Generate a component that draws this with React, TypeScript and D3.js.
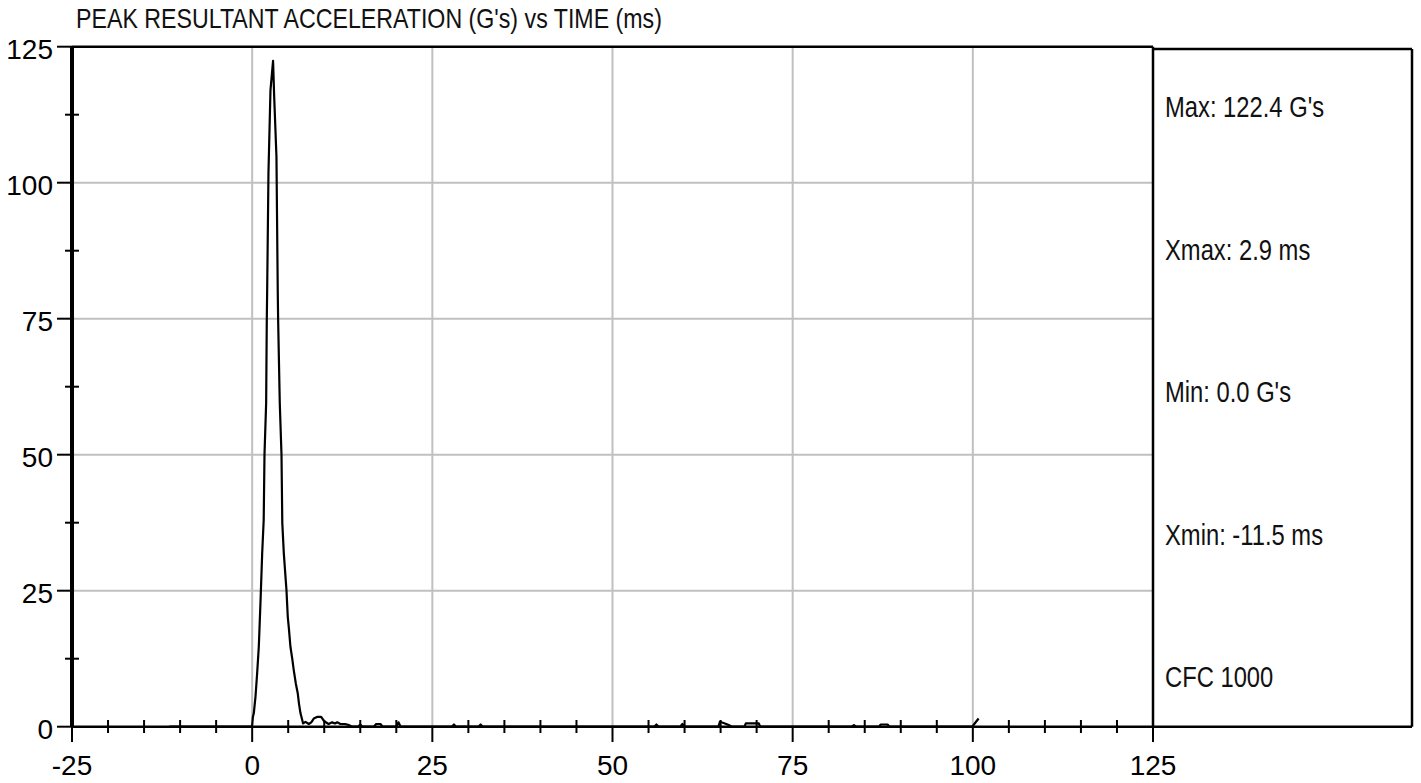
import React from "react";
import * as d3 from "d3";

// ---- data ----
const timeMs: number[] = [
  -11.5, -0.1, 0.0, 0.1, 0.23, 0.46, 0.69, 0.92, 1.15, 1.39, 1.6, 1.71, 1.94, 2.03, 2.08, 2.26, 2.54, 2.9,
  3.05, 3.37, 3.55, 3.6, 3.83, 4.07, 4.18, 4.39, 4.6, 4.76, 4.94, 5.1, 5.31, 5.55, 5.77, 6.05, 6.33, 6.5, 6.7,
  7.07, 7.4, 7.86, 8.2, 8.55, 9.0, 9.57, 10.0, 10.6, 11.1, 11.5, 11.8, 12.25, 12.9, 13.4, 13.9,
  14.7, 15.0, 15.3, 16.9, 17.2, 17.8, 18.1, 20.0, 20.3, 20.6, 27.7, 28.0, 28.3, 31.4, 31.7, 32.0,
  55.8, 56.1, 56.4, 59.4, 59.7, 60.0, 64.7, 64.9, 65.6, 66.3, 66.6, 68.3, 68.5, 69.4, 70.3, 70.5,
  83.2, 83.5, 83.8, 87.0, 87.2, 88.2, 88.4, 99.9, 100.8,
];
const accelG: number[] = [
  0.0, 0.0, 0.3, 1.8, 2.5, 5.5, 9.8, 14.7, 22.7, 31.9, 38.0, 50.0, 59.5, 75.0, 80.0, 101.7, 117.0, 122.4,
  116.0, 104.8, 80.0, 75.0, 59.5, 50.0, 37.5, 31.9, 28.0, 25.1, 20.2, 18.0, 14.7, 12.6, 10.4, 8.0, 6.1, 4.2, 2.5,
  0.6, 0.9, 0.5, 0.8, 1.5, 1.8, 1.8, 1.0, 0.5, 0.8, 0.6, 0.8, 0.5, 0.5, 0.3, 0.0,
  0.0, 0.4, 0.0, 0.0, 0.5, 0.5, 0.0, 0.0, 0.8, 0.0, 0.0, 0.4, 0.0, 0.0, 0.4, 0.0,
  0.0, 0.4, 0.0, 0.0, 0.5, 0.0, 0.0, 0.9, 0.6, 0.2, 0.0, 0.0, 0.6, 0.6, 0.6, 0.0,
  0.0, 0.3, 0.0, 0.0, 0.4, 0.4, 0.0, 0.0, 1.5,
];

const xMajorTicks: number[] = [-25, 0, 25, 50, 75, 100, 125];
const yMajorTicks: number[] = [0, 25, 50, 75, 100, 125];
const xGridTicks: number[] = [0, 25, 50, 75, 100];
const yGridTicks: number[] = [25, 50, 75, 100];
const xMinorTicks: number[] = d3.range(-20, 125, 5).filter((v) => v % 25 !== 0);
const yMinorTicks: number[] = [12.5, 37.5, 62.5, 87.5, 112.5];

const titleText = "PEAK RESULTANT ACCELERATION (G's) vs TIME (ms)";
const statLabels: string[] = ["Max: 122.4 G's", "Xmax: 2.9 ms", "Min: 0.0 G's", "Xmin: -11.5 ms", "CFC 1000"];

const W = 1421;
const H = 783;
const left = 72;
const right = 1153;
const top = 46.7;
const bottom = 726.7;
const panelRight = 1412;
const panelTop = 49;

const regular = "'Liberation Sans', Arial, sans-serif";
const NARROW = 0.82;

export default function App() {
  const x = d3.scaleLinear().domain([-25, 125]).range([left, right]);
  const y = d3.scaleLinear().domain([0, 125]).range([bottom, top]);
  const pts: [number, number][] = timeMs.map((t, i) => [t, accelG[i]]);
  const line = d3
    .line<[number, number]>()
    .x((d) => x(d[0]))
    .y((d) => y(d[1]));

  const statY = d3.scaleLinear().domain([0, statLabels.length - 1]).range([107, 677]);

  return (
    <svg
      width={W}
      height={H}
      style={{ position: "absolute", left: 0, top: 0, background: "#fff" }}
    >
      <rect x={0} y={0} width={W} height={H} fill="#fff" />
      {/* grid */}
      {xGridTicks.map((t) => (
        <line key={"gx" + t} x1={x(t)} x2={x(t)} y1={top} y2={bottom} stroke="#c0c0c0" strokeWidth={2} />
      ))}
      {yGridTicks.map((t) => (
        <line key={"gy" + t} x1={left} x2={right} y1={y(t)} y2={y(t)} stroke="#c0c0c0" strokeWidth={2} />
      ))}
      {/* trace */}
      <path d={line(pts) || ""} fill="none" stroke="#000" strokeWidth={2.2} strokeLinejoin="round" />
      {/* frame */}
      <line x1={left} x2={right} y1={top} y2={top} stroke="#000" strokeWidth={2.5} />
      <line x1={right} x2={right} y1={top} y2={bottom} stroke="#000" strokeWidth={2.5} />
      <line x1={left} x2={right} y1={bottom} y2={bottom} stroke="#000" strokeWidth={2.5} />
      <line x1={left} x2={left} y1={top} y2={bottom} stroke="#000" strokeWidth={4} />
      {/* stats panel */}
      <line x1={right} x2={panelRight} y1={panelTop} y2={panelTop} stroke="#000" strokeWidth={2.5} />
      <line x1={panelRight} x2={panelRight} y1={panelTop} y2={bottom} stroke="#000" strokeWidth={2.5} />
      <line x1={right} x2={panelRight} y1={bottom} y2={bottom} stroke="#000" strokeWidth={2.5} />
      {/* y ticks */}
      {yMajorTicks.map((t) => (
        <g key={"yt" + t}>
          <line x1={57} x2={left} y1={y(t)} y2={y(t)} stroke="#000" strokeWidth={2} />
          <text
            x={53}
            y={y(t) + 2}
            dy="0.36em"
            textAnchor="end"
            fontFamily={regular}
            fontSize={28}
            fill="#000"
          >
            {t}
          </text>
        </g>
      ))}
      {yMinorTicks.map((t) => (
        <line key={"ym" + t} x1={65} x2={79} y1={y(t)} y2={y(t)} stroke="#000" strokeWidth={2} />
      ))}
      {/* x ticks */}
      {xMajorTicks.map((t) => (
        <g key={"xt" + t}>
          <line x1={x(t)} x2={x(t)} y1={bottom} y2={742} stroke="#000" strokeWidth={2} />
          <text
            x={x(t)}
            y={775}
            textAnchor="middle"
            fontFamily={regular}
            fontSize={28}
            fill="#000"
          >
            {t}
          </text>
        </g>
      ))}
      {xMinorTicks.map((t) => (
        <line key={"xm" + t} x1={x(t)} x2={x(t)} y1={720} y2={733} stroke="#000" strokeWidth={2} />
      ))}
      {/* title */}
      <text
        transform={`translate(76,28) scale(${NARROW},1)`}
        fontFamily={regular}
        fontSize={28.3}
        fill="#111"
      >
        {titleText}
      </text>
      {statLabels.map((s, i) => (
        <text
          key={s}
          transform={`translate(1165,${statY(i)}) scale(${NARROW},1)`}
          dy="0.36em"
          fontFamily={regular}
          fontSize={29}
          fill="#111"
        >
          {s}
        </text>
      ))}
    </svg>
  );
}
